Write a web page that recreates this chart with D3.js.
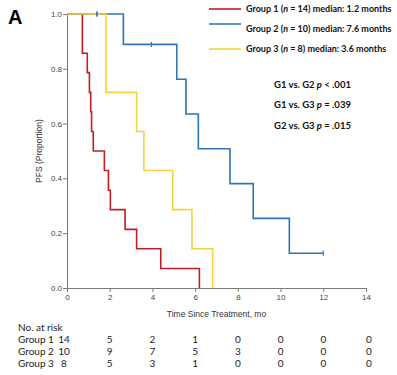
<!DOCTYPE html>
<html>
<head>
<meta charset="utf-8">
<script src="https://cdn.jsdelivr.net/npm/d3@7"></script>
<style>
  body { margin: 0; background: #fff; }
  svg { display: block; }
</style>
</head>
<body>
<div id="chart"></div>
<script>
// step times (months) and survival after each step
var g1Times = [0, 0.72, 0.95, 1.05, 1.11, 1.15, 1.23, 1.75, 1.94, 2.03, 2.72, 3.26, 4.39, 6.2]
var g1Surv = [1, 0.857, 0.786, 0.714, 0.643, 0.571, 0.5, 0.429, 0.357, 0.286, 0.214, 0.143, 0.071, 0]
var g2Times = [0, 2.64, 5.14, 5.57, 6.15, 7.63, 8.72, 10.41, 12]
var g2Surv = [1, 0.889, 0.762, 0.635, 0.508, 0.381, 0.254, 0.127, 0.127]
var g3Times = [0, 1.83, 3.26, 3.6, 4.95, 5.85, 6.82]
var g3Surv = [1, 0.714, 0.571, 0.429, 0.286, 0.143, 0]

// censored observations
var g2CensorT = [1.4, 3.95, 12]
var g2CensorS = [1, 0.889, 0.127]
var g3CensorT = [1.4]
var g3CensorS = [1]

var groupNames = ["Group 1", "Group 2", "Group 3"]
var groupN = [14, 10, 8]
var medians = ["1.2", "7.6", "3.6"]
var colors = ["#c41e24", "#2f75b5", "#f2d33c"]
var pLabels = [["G1 vs. G2 ", "p", " < .001"], ["G1 vs. G3 ", "p", " = .039"], ["G2 vs. G3 ", "p", " = .015"]]

var riskTimes = [0, 2, 4, 6, 8, 10, 12, 14]
var risk1 = [14, 5, 2, 1, 0, 0, 0, 0]
var risk2 = [10, 9, 7, 5, 3, 0, 0, 0]
var risk3 = [8, 5, 3, 1, 0, 0, 0, 0]

var xTicks = [0, 2, 4, 6, 8, 10, 12, 14]
var yTicks = [0, 0.2, 0.4, 0.6, 0.8, 1.0]

var width = 397, height = 375
var svg = d3.select("#chart").append("svg")
    .attr("width", width)
    .attr("height", height)

var x = d3.scaleLinear().domain([0, 14]).range([67, 366])
var y = d3.scaleLinear().domain([0, 1]).range([288, 14])

// axes
var xAxis = svg.append("g")
    .attr("transform", "translate(0," + y(0) + ")")
    .call(d3.axisBottom(x).tickValues(xTicks).tickSize(4).tickFormat(d3.format("d")))
var yAxis = svg.append("g")
    .attr("transform", "translate(" + x(0) + ",0)")
    .call(d3.axisLeft(y).tickValues(yTicks).tickSize(4).tickFormat(d3.format(".1f")))

svg.selectAll(".domain, .tick line").attr("stroke", "#7a7a7a").attr("stroke-width", 1)
svg.selectAll(".tick text")
    .attr("fill", "#444")
    .style("font-family", "Liberation Sans, Arial, sans-serif")
    .style("font-size", "8px")
yAxis.selectAll(".tick text").attr("x", -5)
xAxis.selectAll(".tick text").attr("y", 6)

svg.append("text")
    .attr("transform", "translate(42," + y(0.5) + ") rotate(-90)")
    .attr("text-anchor", "middle")
    .attr("fill", "#333")
    .style("font-family", "Liberation Sans, Arial, sans-serif")
    .style("font-size", "8.5px")
    .text("PFS (Proportion)")

svg.append("text")
    .attr("x", x(7)).attr("y", 317)
    .attr("text-anchor", "middle")
    .attr("fill", "#333")
    .style("font-family", "Liberation Sans, Arial, sans-serif")
    .style("font-size", "8.5px")
    .text("Time Since Treatment, mo")

// curves
var line = d3.line()
    .x(function(d){ return x(d[0]) })
    .y(function(d){ return y(d[1]) })
    .curve(d3.curveStepAfter)

var curves = [d3.zip(g1Times, g1Surv), d3.zip(g2Times, g2Surv), d3.zip(g3Times, g3Surv)]
curves.forEach(function(c, i){
    svg.append("path")
        .datum(c)
        .attr("d", line)
        .attr("fill", "none")
        .attr("stroke", colors[i])
        .attr("stroke-width", 1.6)
})

// censor marks
var censors = [[1, d3.zip(g3CensorT, g3CensorS)], [1, d3.zip(g2CensorT, g2CensorS)]]
censors.forEach(function(c){
    svg.append("g").selectAll("line")
        .data(c[1])
        .enter()
        .append("line")
        .attr("x1", function(d){ return x(d[0]) })
        .attr("x2", function(d){ return x(d[0]) })
        .attr("y1", function(d){ return y(d[1]) - 2.5 })
        .attr("y2", function(d){ return y(d[1]) + 2.5 })
        .attr("stroke", colors[c[0]])
        .attr("stroke-width", 1.2)
})

// panel letter
svg.append("text")
    .attr("x", 8).attr("y", 24)
    .attr("fill", "#000")
    .style("font-family", "Liberation Sans, Arial, sans-serif")
    .style("font-weight", "bold")
    .style("font-size", "20px")
    .text("A")

// legend
var legY = [9, 24, 49]
var legTextY = [9, 29, 49]
groupNames.forEach(function(g, i){
    svg.append("line")
        .attr("x1", 209).attr("x2", 241)
        .attr("y1", legY[i]).attr("y2", legY[i])
        .attr("stroke", colors[i])
        .attr("stroke-width", 1.6)
    var t = svg.append("text")
        .attr("x", 246).attr("y", legTextY[i])
        .attr("dy", "0.35em")
        .attr("fill", "#111")
        .style("font-family", "Lato, sans-serif")
        .style("font-weight", "bold")
        .style("font-size", "9px")
    t.append("tspan").text(g + " (")
    t.append("tspan").style("font-style", "italic").text("n")
    t.append("tspan").text(" = " + groupN[i] + ") median: " + medians[i] + " months")
})

var pY = [85, 105, 126]
pLabels.forEach(function(p, i){
    var t = svg.append("text")
        .attr("x", 274).attr("y", pY[i])
        .attr("dy", "0.35em")
        .attr("fill", "#111")
        .style("font-family", "Lato, sans-serif")
        .style("font-weight", "bold")
        .style("font-size", "9.5px")
    t.append("tspan").text(p[0])
    t.append("tspan").style("font-style", "italic").text(p[1])
    t.append("tspan").text(p[2])
})

// number at risk table
var tableFont = "Lato, sans-serif"
svg.append("text")
    .attr("x", 18).attr("y", 327)
    .attr("dy", "0.35em")
    .attr("fill", "#222")
    .style("font-family", tableFont)
    .style("font-size", "10px")
    .text("No. at risk")

var riskRows = [risk1, risk2, risk3]
var rowY = [339.5, 351.5, 363.5]
riskRows.forEach(function(r, i){
    svg.append("text")
        .attr("x", 18).attr("y", rowY[i])
        .attr("dy", "0.35em")
        .attr("fill", "#222")
        .style("font-family", tableFont)
        .style("font-size", "10px")
        .text(groupNames[i])
    svg.append("g").selectAll("text")
        .data(r)
        .enter()
        .append("text")
        .attr("x", function(d, j){ return x(riskTimes[j]) + (j == 0 ? -3 : 0) + (j == 7 ? 3 : 0) })
        .attr("y", rowY[i])
        .attr("dy", "0.35em")
        .attr("text-anchor", "middle")
        .attr("fill", "#222")
        .style("font-family", tableFont)
        .style("font-size", "10px")
        .text(function(d){ return d })
})
</script>
</body>
</html>
